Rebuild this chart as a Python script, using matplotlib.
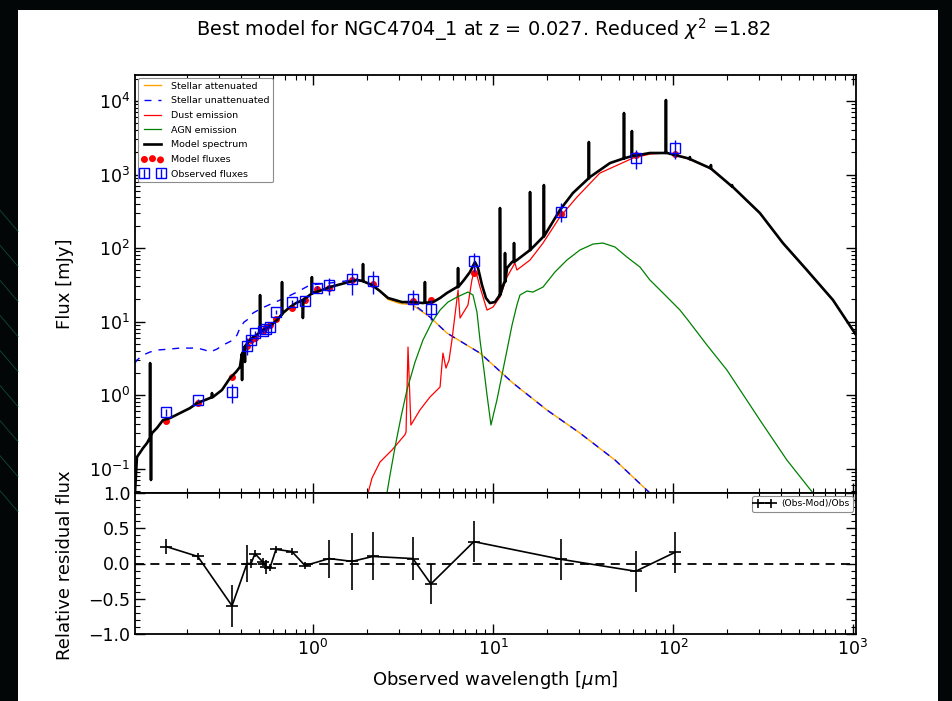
import numpy as np
import matplotlib
matplotlib.use("Agg")
import matplotlib.pyplot as plt
from matplotlib.patches import Rectangle
from matplotlib.ticker import MultipleLocator, LogLocator, NullFormatter

# ---------------- data (log10 wavelength [um], log10 flux [mJy]) ----------------
spec_logwl = [-0.989, -0.978, -0.944, -0.922, -0.894, -0.867, -0.833, -0.794, -0.739, -0.683,
              -0.644, -0.600, -0.556, -0.506, -0.461, -0.428, -0.406, -0.389, -0.372, -0.350,
              -0.333, -0.306, -0.278, -0.239, -0.200, -0.167, -0.128, -0.094, -0.056, 0.0,
              0.050, 0.094, 0.178, 0.244, 0.289, 0.328, 0.372, 0.417, 0.456, 0.494,
              0.550, 0.611, 0.667, 0.706, 0.744, 0.800, 0.839, 0.872, 0.900, 0.917,
              0.939, 0.961, 0.983, 1.011, 1.039, 1.061, 1.078, 1.106, 1.133, 1.206,
              1.278, 1.372, 1.444, 1.539, 1.650, 1.778, 1.872, 1.967, 2.078, 2.206,
              2.333, 2.483, 2.611, 2.744, 2.889, 3.017]
spec_logf = [-1.333, -0.844, -0.721, -0.653, -0.517, -0.449, -0.340, -0.313, -0.245, -0.177,
             -0.109, -0.068, -0.027, 0.068, 0.231, 0.313, 0.381, 0.585, 0.680, 0.748,
             0.789, 0.830, 0.884, 0.939, 1.020, 1.116, 1.197, 1.252, 1.293, 1.388,
             1.429, 1.469, 1.524, 1.565, 1.537, 1.497, 1.415, 1.320, 1.293, 1.265,
             1.265, 1.252, 1.265, 1.320, 1.388, 1.469, 1.565, 1.673, 1.810, 1.728,
             1.497, 1.320, 1.252, 1.265, 1.361, 1.524, 1.728, 1.810, 1.837, 1.973,
             2.150, 2.517, 2.748, 2.966, 3.156, 3.252, 3.293, 3.293, 3.224, 3.088,
             2.830, 2.476, 2.068, 1.701, 1.293, 0.820]

# emission / absorption lines on the model spectrum
line_logwl = [-0.905, -0.900, -0.561, -0.394, -0.378, -0.294, -0.172, -0.056, -0.006, 0.278,
              0.622, 0.806, 1.039, 1.067, 1.117, 1.206, 1.283, 1.533, 1.728, 1.772,
              1.961, 2.094, 2.211, 2.328]
line_logpeak = [0.435, -1.156, 0.027, 0.204, 0.450, 1.360, 1.537, 1.048, 1.605, 1.782,
                1.537, 1.728, 2.544, 1.932, 2.068, 2.762, 2.857, 3.442, 3.837, 3.592,
                4.014, 3.238, 3.129, 2.857]
line_logbase = [-0.580, -0.560, -0.030, 0.560, 0.660, 0.860, 1.100, 1.293, 1.380, 1.550,
                1.255, 1.469, 1.361, 1.540, 1.810, 1.973, 2.160, 2.950, 3.220, 3.250,
                3.293, 3.210, 3.080, 2.840]

att_logwl = [-0.989, -0.978, -0.944, -0.922, -0.894, -0.867, -0.833, -0.794, -0.739, -0.683,
             -0.644, -0.600, -0.556, -0.506, -0.461, -0.428, -0.406, -0.389, -0.372, -0.350,
             -0.333, -0.306, -0.278, -0.239, -0.200, -0.167, -0.128, -0.094, -0.056, 0.0,
             0.050, 0.094, 0.178, 0.244, 0.289, 0.328, 0.372, 0.417, 0.483, 0.550,
             0.650, 0.744, 0.928, 1.111, 1.300, 1.483, 1.678, 1.872]
att_logf = [-1.333, -0.844, -0.721, -0.653, -0.517, -0.449, -0.340, -0.313, -0.245, -0.177,
            -0.109, -0.068, -0.027, 0.068, 0.231, 0.313, 0.381, 0.585, 0.680, 0.748,
            0.789, 0.830, 0.884, 0.939, 1.020, 1.116, 1.197, 1.252, 1.293, 1.388,
            1.429, 1.469, 1.524, 1.565, 1.537, 1.497, 1.415, 1.300, 1.245, 1.230,
            1.061, 0.844, 0.571, 0.163, -0.204, -0.517, -0.884, -1.333]

unatt_logwl = [-0.989, -0.978, -0.944, -0.906, -0.867, -0.794, -0.739, -0.644, -0.600, -0.572,
               -0.533, -0.500, -0.444, -0.422, -0.406, -0.383, -0.367, -0.333, -0.283, -0.222,
               -0.156, -0.089, -0.017, 0.094, 0.178, 0.244, 0.328, 0.417, 0.483, 0.550,
               0.650, 0.744, 0.928, 1.111, 1.300, 1.483, 1.678, 1.872]
unatt_logf = [0.435, 0.476, 0.544, 0.585, 0.612, 0.626, 0.639, 0.639, 0.612, 0.585,
              0.626, 0.680, 0.748, 0.816, 0.912, 0.993, 1.020, 1.116, 1.184, 1.252,
              1.320, 1.401, 1.497, 1.524, 1.551, 1.578, 1.497, 1.320, 1.265, 1.252,
              1.061, 0.844, 0.571, 0.163, -0.204, -0.517, -0.884, -1.333]

dust_logwl = [0.306, 0.328, 0.372, 0.439, 0.511, 0.517, 0.528, 0.544, 0.594, 0.650,
              0.706, 0.722, 0.739, 0.756, 0.772, 0.806, 0.817, 0.844, 0.861, 0.883,
              0.900, 0.928, 0.967, 1.000, 1.039, 1.078, 1.122, 1.133, 1.206, 1.278,
              1.372, 1.467, 1.594, 1.778, 1.872, 1.967, 2.078, 2.206, 2.333, 2.483,
              2.611, 2.744, 2.889, 3.017]
dust_logf = [-1.333, -1.129, -0.912, -0.748, -0.540, -0.503, 0.653, -0.408, -0.204, -0.027,
             0.109, 0.571, 0.367, 0.476, 0.748, 1.429, 1.048, 1.156, 1.224, 1.565,
             1.728, 1.469, 1.156, 1.197, 1.333, 1.605, 1.796, 1.701, 1.837, 2.068,
             2.422, 2.694, 3.020, 3.224, 3.279, 3.293, 3.220, 3.084, 2.826, 2.472,
             2.064, 1.697, 1.289, 0.816]

agn_logwl = [0.411, 0.428, 0.456, 0.489, 0.522, 0.567, 0.611, 0.661, 0.706, 0.750,
             0.800, 0.861, 0.889, 0.911, 0.928, 0.950, 0.967, 0.989, 1.006, 1.022,
             1.050, 1.078, 1.106, 1.133, 1.150, 1.189, 1.222, 1.278, 1.344, 1.411,
             1.483, 1.556, 1.611, 1.678, 1.744, 1.817, 1.872, 1.956, 2.039, 2.083,
             2.189, 2.300, 2.483, 2.633, 2.778]
agn_logf = [-1.333, -1.088, -0.707, -0.299, 0.068, 0.449, 0.748, 0.993, 1.156, 1.265,
            1.333, 1.401, 1.361, 1.129, 0.748, 0.340, 0.0, -0.408, -0.231, -0.068,
            0.272, 0.612, 0.952, 1.224, 1.361, 1.415, 1.401, 1.469, 1.673, 1.837,
            1.973, 2.054, 2.068, 2.014, 1.878, 1.741, 1.565, 1.361, 1.156, 1.020,
            0.680, 0.340, -0.340, -0.884, -1.333]

# photometry
obs_wl = [0.153, 0.229, 0.355, 0.430, 0.453, 0.476, 0.527, 0.548, 0.577, 0.623, 0.764,
          0.903, 1.05, 1.23, 1.65, 2.15, 3.59, 4.52, 7.83, 23.8, 62.1, 103.0]
obs_flux = [0.59, 0.85, 1.10, 4.7, 5.6, 7.0, 7.5, 8.0, 8.5, 13.5, 18.5,
            19.2, 29.0, 31.0, 38.0, 36.0, 20.5, 15.0, 67.0, 314.0, 1660.0, 2270.0]
rel_err = [0.11, 0.05, 0.30, 0.26, 0.06, 0.05, 0.06, 0.10, 0.05, 0.05, 0.05,
           0.05, 0.05, 0.27, 0.40, 0.34, 0.30, 0.29, 0.29, 0.29, 0.29, 0.29]
model_flux = [0.45, 0.77, 1.76, 4.7, 5.6, 6.0, 7.35, 8.4, 9.0, 10.8, 15.4,
              19.8, 28.0, 28.8, 36.9, 32.4, 19.1, 19.4, 46.0, 295.0, 1843.0, 1907.0]
residual = [0.24, 0.10, -0.60, 0.0, 0.0, 0.14, 0.02, -0.05, -0.06, 0.20, 0.17,
            -0.03, np.nan, 0.07, 0.03, 0.10, 0.07, -0.29, 0.31, 0.06, -0.11, 0.16]

title = r"Best model for NGC4704_1 at z = 0.027. Reduced $\chi^2$ =1.82"

# ---------------- build model spectrum with lines ----------------
lw_all = list(spec_logwl)
lf_all = list(spec_logf)
for w, p, b in zip(line_logwl, line_logpeak, line_logbase):
    lw_all += [w - 0.001, w, w + 0.001]
    lf_all += [b, p, b]
order = np.argsort(lw_all, kind="stable")
spec_wl = 10 ** np.asarray(lw_all)[order]
spec_f = 10 ** np.asarray(lf_all)[order]

# ---------------- figure ----------------
fig = plt.figure(figsize=(9.52, 7.01), dpi=100, facecolor="#030606")
fig.patches.append(Rectangle((18 / 952, 0), (938 - 18) / 952, 1 - 10 / 701,
                             transform=fig.transFigure, facecolor="white",
                             edgecolor="none", zorder=-10))
# faint streaks of the slide background
for i in range(9):
    fig.add_artist(plt.Line2D([0, 18 / 952], [0.30 + 0.05 * i, 0.27 + 0.05 * i],
                              transform=fig.transFigure, color="#0e4a3a", lw=0.6, zorder=-9))

L, R = 135 / 952, 856 / 952
ax1 = fig.add_axes([L, 1 - 493 / 701, R - L, (493 - 75) / 701])
ax2 = fig.add_axes([L, 1 - 634 / 701, R - L, (634 - 493) / 701], sharex=ax1)

h_att, = ax1.plot(10 ** np.asarray(att_logwl), 10 ** np.asarray(att_logf),
                  color="orange", lw=1.0, label="Stellar attenuated", zorder=2)
h_un, = ax1.plot(10 ** np.asarray(unatt_logwl), 10 ** np.asarray(unatt_logf),
                 color="blue", lw=1.0, ls="--", dashes=(5, 5),
                 label="Stellar unattenuated", zorder=2.2)
h_dust, = ax1.plot(10 ** np.asarray(dust_logwl), 10 ** np.asarray(dust_logf),
                   color="red", lw=0.9, label="Dust emission", zorder=2.3)
h_agn, = ax1.plot(10 ** np.asarray(agn_logwl), 10 ** np.asarray(agn_logf),
                  color="green", lw=0.9, label="AGN emission", zorder=2.3)
h_mf = ax1.scatter(obs_wl, model_flux, s=16, color="red", zorder=2.5, label="Model fluxes")
h_mod, = ax1.plot(spec_wl, spec_f, color="black", lw=1.9, label="Model spectrum", zorder=3)
obs_f = np.asarray(obs_flux)
h_obs = ax1.errorbar(obs_wl, obs_f, yerr=obs_f * np.asarray(rel_err), ls="none",
                     marker="s", ms=7, mfc="none", mec="blue", mew=1.0,
                     ecolor="blue", elinewidth=1.0, zorder=5, label="Observed fluxes")

ax1.set_xscale("log")
ax1.set_yscale("log")
ax1.set_xlim(0.1026, 1040)
ax1.set_ylim(0.0465, 22600)
leg = ax1.legend(handles=[h_att, h_un, h_dust, h_agn, h_mod, h_mf, h_obs],
                 loc="upper left", fontsize=6.8, numpoints=2, scatterpoints=3,
                 handlelength=2.3, borderaxespad=0.3, labelspacing=0.6,
                 fancybox=True, framealpha=1, edgecolor="0.55")
leg.get_frame().set_linewidth(0.8)

# residuals
res = np.asarray(residual)
m = ~np.isnan(res)
ow = np.asarray(obs_wl)[m]
ax2.errorbar(ow, res[m], yerr=np.asarray(rel_err)[m], color="k", marker="_", ms=9,
             mew=1.2, lw=1.2, elinewidth=1.2, label="(Obs-Mod)/Obs")
ax2.axhline(0, color="k", ls="--", lw=1.3, dashes=(5, 3.5))
ax2.set_ylim(-1.0, 1.0)
ax2.yaxis.set_major_locator(MultipleLocator(0.5))
ax2.yaxis.set_minor_locator(MultipleLocator(0.1))
leg2 = ax2.legend(loc="upper right", fontsize=6.6, numpoints=2, handlelength=2.0,
                  borderaxespad=0.3, fancybox=True, framealpha=1, edgecolor="0.55")
leg2.get_frame().set_linewidth(0.8)

for ax in (ax1, ax2):
    ax.tick_params(which="both", direction="in", top=True, right=True, labelsize=12.5)
    ax.tick_params(which="major", length=7, width=1.0)
    ax.tick_params(which="minor", length=3.5, width=0.8)
    for s in ax.spines.values():
        s.set_linewidth(1.3)
ax1.xaxis.set_major_locator(LogLocator(base=10, numticks=10))
ax1.xaxis.set_minor_locator(LogLocator(base=10, subs=np.arange(2, 10), numticks=20))
ax1.yaxis.set_major_locator(LogLocator(base=10, numticks=12))
ax1.yaxis.set_minor_locator(LogLocator(base=10, subs=np.arange(2, 10), numticks=40))
ax1.yaxis.set_minor_formatter(NullFormatter())
plt.setp(ax1.get_xticklabels(), visible=False)

fig.text(0.508, 1 - 30 / 701, title, ha="center", va="center", fontsize=13.9)
fig.text(65 / 952, 1 - 284 / 701, "Flux [mJy]", rotation=90, ha="center", va="center", fontsize=13)
fig.text(65 / 952, 1 - 565 / 701, "Relative residual flux", rotation=90, ha="center",
         va="center", fontsize=13)
fig.text(495 / 952, 1 - 680 / 701, r"Observed wavelength [$\mu$m]", ha="center",
         va="center", fontsize=13)

fig.savefig("out.png", dpi=100, facecolor=fig.get_facecolor())
